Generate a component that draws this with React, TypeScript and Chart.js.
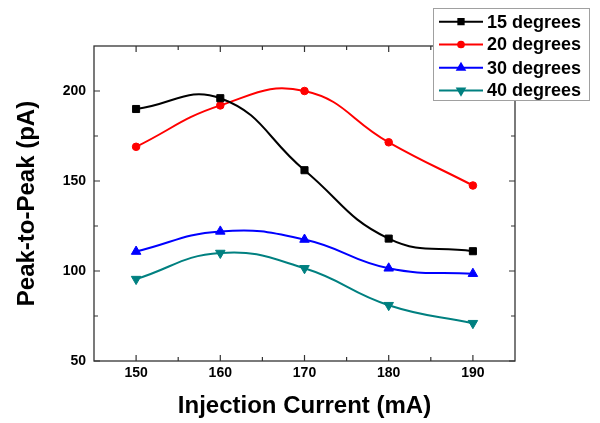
import { useEffect, useRef } from 'react';
import { Chart, registerables } from 'chart.js';
import { drawPoint } from 'chart.js/helpers';

Chart.register(...registerables);

const currents = [150, 160, 170, 180, 190];
const deg15 = [190, 196, 156, 118, 111];
const deg20 = [169, 192, 200, 171.5, 147.5];
const deg30 = [110.8, 122, 117.5, 101.5, 98.5];
const deg40 = [95.5, 110, 101.5, 81, 71];
const seriesLabels = ['15 degrees', '20 degrees', '30 degrees', '40 degrees'];
const seriesColors = ['#000000', '#ff0000', '#0000ff', '#008080'];
const xTicks = [150, 160, 170, 180, 190];
const xMinorTicks = [155, 165, 175, 185];
const yTicks = [50, 100, 150, 200];
const yMinorTicks = [75, 125, 175];

const FONT = "'Liberation Sans', Arial, sans-serif";

const markerStyles = [
  { pointStyle: 'rect', rotation: 0, radius: 5 },
  { pointStyle: 'circle', rotation: 0, radius: 3.8 },
  { pointStyle: 'triangle', rotation: 0, radius: 5.5 },
  { pointStyle: 'triangle', rotation: 180, radius: 5.5 },
];

const framePlugin = {
  id: 'frameTicksLegend',
  afterDraw(chart: any) {
    const { ctx, chartArea: a, scales } = chart;
    const xs = scales.x;
    const ys = scales.y;
    ctx.save();
    // frame
    ctx.strokeStyle = '#333333';
    ctx.lineWidth = 1.3;
    ctx.strokeRect(a.left, a.top, a.right - a.left, a.bottom - a.top);
    // inward ticks
    ctx.lineWidth = 1.2;
    const major = 6;
    const minor = 4;
    ctx.beginPath();
    const xAll = [...xTicks.map((v) => [v, major]), ...xMinorTicks.map((v) => [v, minor])];
    xAll.forEach(([v, len]) => {
      const px = xs.getPixelForValue(v);
      ctx.moveTo(px, a.bottom);
      ctx.lineTo(px, a.bottom - len);
      ctx.moveTo(px, a.top);
      ctx.lineTo(px, a.top + len);
    });
    const yAll = [...yTicks.map((v) => [v, major]), ...yMinorTicks.map((v) => [v, minor])];
    yAll.forEach(([v, len]) => {
      const py = ys.getPixelForValue(v);
      ctx.moveTo(a.left, py);
      ctx.lineTo(a.left + len, py);
      ctx.moveTo(a.right, py);
      ctx.lineTo(a.right - len, py);
    });
    ctx.stroke();

    // legend box
    const bx = 433.5, by = 8.5, bw = 156, bh = 92;
    ctx.fillStyle = '#ffffff';
    ctx.fillRect(bx, by, bw, bh);
    ctx.strokeStyle = '#a0a0a0';
    ctx.lineWidth = 1;
    ctx.strokeRect(bx, by, bw, bh);
    const rowY = [21.7, 44.5, 67.8, 90.5];
    ctx.font = `bold 18px ${FONT}`;
    ctx.textBaseline = 'middle';
    ctx.textAlign = 'left';
    seriesLabels.forEach((label, i) => {
      const y = rowY[i];
      ctx.strokeStyle = seriesColors[i];
      ctx.fillStyle = seriesColors[i];
      ctx.lineWidth = 2;
      ctx.beginPath();
      ctx.moveTo(439, y);
      ctx.lineTo(483, y);
      ctx.stroke();
      const m = markerStyles[i];
      drawPoint(ctx, { pointStyle: m.pointStyle as any, rotation: m.rotation, radius: m.radius * 0.75, borderWidth: 1 }, 461, y);
      ctx.fillStyle = '#000000';
      ctx.fillText(label, 487, y + 1);
    });
    ctx.restore();
  },
};

export default function App() {
  const ref = useRef<HTMLCanvasElement | null>(null);
  useEffect(() => {
    document.body.style.margin = '0';
    const series = [deg15, deg20, deg30, deg40];
    const chart = new Chart(ref.current as HTMLCanvasElement, {
      type: 'line',
      data: {
        datasets: series.map((vals, i) => ({
          label: seriesLabels[i],
          data: vals.map((v, j) => ({ x: currents[j], y: v })),
          borderColor: seriesColors[i],
          backgroundColor: seriesColors[i],
          borderWidth: 2,
          tension: 0.45,
          pointStyle: markerStyles[i].pointStyle as any,
          pointRotation: markerStyles[i].rotation,
          pointRadius: markerStyles[i].radius,
          pointBorderWidth: 1,
          pointHoverRadius: markerStyles[i].radius,
          fill: false,
        })),
      },
      options: {
        animation: false,
        responsive: true,
        maintainAspectRatio: false,
        layout: { padding: { top: 46, right: 85, left: 0, bottom: 0 } },
        plugins: { legend: { display: false }, tooltip: { enabled: false } },
        scales: {
          x: {
            type: 'linear',
            min: 145,
            max: 195,
            grid: { display: false, drawTicks: false },
            border: { display: false },
            afterBuildTicks: (s: any) => {
              s.ticks = xTicks.map((v) => ({ value: v }));
            },
            afterFit: (s: any) => {
              s.height = 62;
            },
            ticks: {
              padding: 4,
              color: '#000',
              font: { family: FONT, size: 14, weight: 'bold' },
            },
            title: {
              display: true,
              text: 'Injection Current (mA)',
              color: '#000',
              font: { family: FONT, size: 24, weight: 'bold' },
              padding: { top: 0, bottom: 2 },
            },
          },
          y: {
            type: 'linear',
            min: 50,
            max: 225,
            grid: { display: false, drawTicks: false },
            border: { display: false },
            afterBuildTicks: (s: any) => {
              s.ticks = yTicks.map((v) => ({ value: v }));
            },
            afterFit: (s: any) => {
              s.width = 94;
            },
            ticks: {
              padding: 8,
              color: '#000',
              font: { family: FONT, size: 14, weight: 'bold' },
            },
            title: {
              display: true,
              text: 'Peak-to-Peak (pA)',
              color: '#000',
              font: { family: FONT, size: 24, weight: 'bold' },
              padding: { top: 13, bottom: 0 },
            },
          },
        },
      },
      plugins: [framePlugin],
    });
    return () => chart.destroy();
  }, []);
  return (
    <div style={{ position: 'fixed', left: 0, top: 0, width: 600, height: 423, background: '#fff' }}>
      <canvas ref={ref} />
    </div>
  );
}
